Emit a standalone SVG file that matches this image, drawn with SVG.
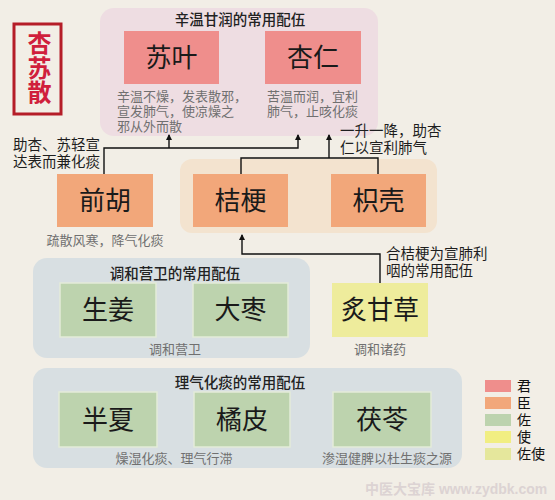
<svg xmlns="http://www.w3.org/2000/svg" width="555" height="500" viewBox="0 0 555 500">
<defs>
<style>
.t{font-family:"Liberation Sans","Noto Sans CJK SC","Noto Sans CJK JP",sans-serif;}
.node{font-size:26px;fill:#1a1a1a;text-anchor:middle;}
.gt{font-size:14.5px;fill:#222;text-anchor:middle;font-weight:500;}
.desc{font-size:13px;fill:#707070;}
.note{font-size:14.5px;fill:#1e1e1e;}
.leg{font-size:14px;fill:#111;}
.jun{fill:#ef8e8c;}
.chen{fill:#f2a77a;}
.zuo{fill:#bdd3ae;stroke:#e3ecd9;stroke-width:1.5;}
.shi{fill:#eeec9c;}
.con{fill:none;stroke:#111;stroke-width:1.4;}
</style>
<marker id="arr" markerWidth="6" markerHeight="6" refX="5" refY="3" orient="auto" markerUnits="userSpaceOnUse">
<path d="M0,0 L6,3 L0,6 z" fill="#111"/>
</marker>
</defs>
<rect width="555" height="500" fill="#f2eee6"/>

<g id="title">
<rect x="14" y="24" width="47" height="90" fill="none" stroke="#b51d28" stroke-width="3"/>
<text class="t" x="37.5" y="31" font-size="24" fill="#d01f3c" font-weight="bold" style="writing-mode:vertical-rl" letter-spacing="0.5">杏苏散</text>
</g>

<g id="group-jun">
<rect x="100" y="8" width="278" height="128" rx="14" fill="#eedde2"/>
<text class="t gt" x="240" y="25">辛温甘润的常用配伍</text>
</g>
<g id="node-suye">
<rect class="jun" x="124" y="31" width="95" height="53"/>
<text class="t node" x="171.5" y="67">苏叶</text>
<text class="t desc"><tspan x="117" y="101">辛温不燥，发表散邪，</tspan><tspan x="117" y="116">宣发肺气，使凉燥之</tspan><tspan x="117" y="131">邪从外而散</tspan></text>
</g>
<g id="node-xingren">
<rect class="jun" x="265" y="31" width="96" height="53"/>
<text class="t node" x="313" y="67">杏仁</text>
<text class="t desc"><tspan x="267" y="101">苦温而润，宜利</tspan><tspan x="267" y="116">肺气，止咳化痰</tspan></text>
</g>

<g id="group-chen">
<rect x="180" y="159" width="257" height="74" rx="12" fill="#f3e3cf"/>
</g>
<g id="node-qianhu">
<rect class="chen" x="57" y="174" width="96" height="53"/>
<text class="t node" x="105" y="210">前胡</text>
<text class="t desc" x="105" y="245" text-anchor="middle">疏散风寒，降气化痰</text>
</g>
<g id="node-jiegeng">
<rect class="chen" x="193" y="174" width="95" height="53"/>
<text class="t node" x="240.5" y="210">桔梗</text>
</g>
<g id="node-zhiqiao">
<rect class="chen" x="331" y="174" width="95" height="53"/>
<text class="t node" x="378.5" y="210">枳壳</text>
</g>

<g id="group-yingwei">
<rect x="33" y="258" width="277" height="100" rx="14" fill="#d8dfe2"/>
<text class="t gt" x="175" y="279">调和营卫的常用配伍</text>
<text class="t desc" x="175" y="354" text-anchor="middle">调和营卫</text>
</g>
<g id="node-shengjiang">
<rect class="zuo" x="60" y="283" width="96" height="54"/>
<text class="t node" x="108" y="319">生姜</text>
</g>
<g id="node-dazao">
<rect class="zuo" x="193" y="283" width="95" height="54"/>
<text class="t node" x="240.5" y="319">大枣</text>
</g>
<g id="node-gancao">
<rect class="shi" x="332" y="283" width="96" height="54"/>
<text class="t node" x="380" y="319" font-size="24">炙甘草</text>
<text class="t desc" x="380" y="354" text-anchor="middle">调和诸药</text>
</g>

<g id="group-liqi">
<rect x="33" y="368" width="429" height="100" rx="14" fill="#d8dfe2"/>
<text class="t gt" x="240" y="388">理气化痰的常用配伍</text>
<text class="t desc" x="174" y="463" text-anchor="middle">燥湿化痰、理气行滞</text>
<text class="t desc" x="387" y="463" text-anchor="middle">渗湿健脾以杜生痰之源</text>
</g>
<g id="node-banxia">
<rect class="zuo" x="59" y="392" width="98" height="55"/>
<text class="t node" x="108" y="429">半夏</text>
</g>
<g id="node-jupi">
<rect class="zuo" x="194" y="392" width="96" height="55"/>
<text class="t node" x="242" y="429">橘皮</text>
</g>
<g id="node-fuling">
<rect class="zuo" x="333" y="392" width="98" height="55"/>
<text class="t node" x="382" y="429">茯苓</text>
</g>

<g id="connectors">
<path class="con" d="M104,174 V148 H298 V135" marker-end="url(#arr)"/>
<path class="con" d="M169,148 V135" marker-end="url(#arr)"/>
<path class="con" d="M241,174 V158 H378 V174"/>
<path class="con" d="M329,158 V135" marker-end="url(#arr)"/>
<path class="con" d="M380,283 V254 H242 V235" marker-end="url(#arr)"/>
</g>

<g id="notes">
<text class="t note"><tspan x="13" y="150">助杏、苏轻宣</tspan><tspan x="13" y="167">达表而兼化痰</tspan></text>
<text class="t note"><tspan x="340" y="136">一升一降，助杏</tspan><tspan x="340" y="153">仁以宣利肺气</tspan></text>
<text class="t note"><tspan x="386" y="259">合桔梗为宣肺利</tspan><tspan x="386" y="276">咽的常用配伍</tspan></text>
</g>

<g id="legend">
<rect x="485" y="380" width="26" height="12" fill="#ef8e8c"/>
<rect x="485" y="397" width="26" height="12" fill="#f2a77a"/>
<rect x="485" y="414" width="26" height="12" fill="#bdd3ae"/>
<rect x="485" y="431" width="26" height="12" fill="#f1ee82"/>
<rect x="485" y="448" width="26" height="12" fill="#e5e79c"/>
<text class="t leg" x="517" y="391">君</text>
<text class="t leg" x="517" y="408">臣</text>
<text class="t leg" x="517" y="425">佐</text>
<text class="t leg" x="517" y="442">使</text>
<text class="t leg" x="517" y="459">佐使</text>
</g>

<text class="t" x="365" y="494" font-size="14" font-weight="bold" fill="#dcd3d3">中医大宝库 www.zydbk.com</text>
</svg>
